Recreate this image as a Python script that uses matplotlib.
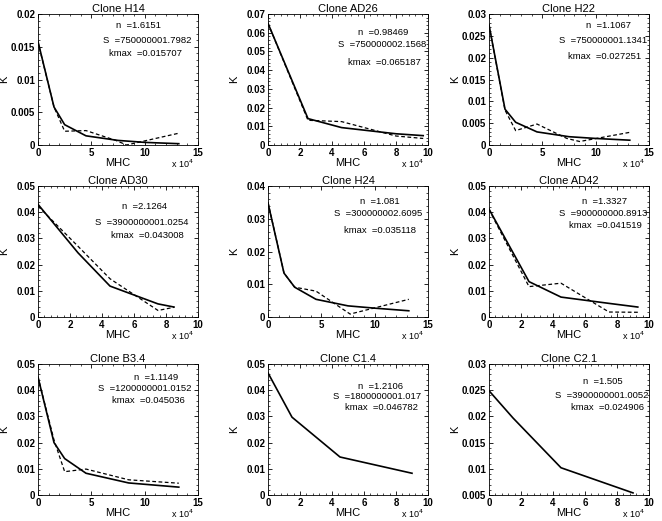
import matplotlib
matplotlib.use("Agg")
import matplotlib.pyplot as plt
from matplotlib.ticker import FuncFormatter, MultipleLocator, AutoMinorLocator

plt.rcParams["font.family"] = ["Liberation Sans", "DejaVu Sans"]

# MHC values (molecules); fit = solid line, obs = dashed line
h14_x = [0, 15000, 25000, 45000, 75000, 100000, 132000]
h14_fit = [0.0158, 0.0058, 0.0031, 0.0014, 0.0007, 0.0004, 0.0002]
h14_obs_x = [0, 15000, 25000, 45000, 73000, 83000, 132000]
h14_obs = [0.0157, 0.0058, 0.0021, 0.0022, 0.0007, 0.0, 0.0018]

ad26_x = [0, 25000, 46000, 80000, 97000]
ad26_fit = [0.065, 0.0141, 0.0093, 0.0060, 0.0050]
ad26_obs = [0.065, 0.0132, 0.0125, 0.0048, 0.0035]

h22_x = [0, 15000, 25000, 45000, 75000, 100000, 132000]
h22_fit = [0.0275, 0.0082, 0.0052, 0.0030, 0.0019, 0.0015, 0.0011]
h22_obs_x = [0, 15000, 25000, 45000, 73000, 85000, 132000]
h22_obs = [0.0275, 0.0080, 0.0033, 0.0048, 0.0015, 0.0008, 0.0029]

ad30_x = [0, 25000, 45000, 75000, 85000]
ad30_fit = [0.0430, 0.0245, 0.0118, 0.0050, 0.0038]
ad30_obs = [0.0423, 0.0270, 0.0146, 0.0025, 0.0037]

h24_x = [0, 15000, 25000, 45000, 75000, 100000, 132000]
h24_fit = [0.0348, 0.0134, 0.0091, 0.0054, 0.0034, 0.0027, 0.0019]
h24_obs_x = [0, 15000, 25000, 45000, 77000, 132000]
h24_obs = [0.0350, 0.0134, 0.0091, 0.0079, 0.0009, 0.0054]

ad42_x = [0, 25000, 45000, 75000, 93000]
ad42_fit = [0.0412, 0.0135, 0.0076, 0.0052, 0.0038]
ad42_obs = [0.0410, 0.0116, 0.0129, 0.0019, 0.0018]

b34_x = [0, 15000, 25000, 45000, 85000, 132000]
b34_fit = [0.0450, 0.0200, 0.0139, 0.0083, 0.0046, 0.0030]
b34_obs = [0.0450, 0.0210, 0.0089, 0.0099, 0.0058, 0.0045]

c14_x = [0, 15000, 45000, 90000]
c14_fit = [0.0466, 0.0297, 0.0145, 0.0083]

c21_x = [0, 15000, 45000, 90000]
c21_fit = [0.0249, 0.0197, 0.0102, 0.0054]

titles = ["Clone H14", "Clone AD26", "Clone H22",
          "Clone AD30", "Clone H24", "Clone AD42",
          "Clone B3.4", "Clone C1.4", "Clone C2.1"]
n_vals = ["1.6151", "0.98469", "1.1067", "2.1264", "1.081", "1.3327",
          "1.1149", "1.2106", "1.505"]
s_vals = ["750000001.7982", "750000002.1568", "750000001.1341",
          "3900000001.0254", "300000002.6095", "900000000.8913",
          "1200000001.0152", "1800000001.017", "3900000001.0052"]
kmax_vals = ["0.015707", "0.065187", "0.027251", "0.043008", "0.035118",
             "0.041519", "0.045036", "0.046782", "0.024906"]

fig = plt.figure(figsize=(6.62, 5.21), dpi=100)

col_left = [38 / 662, 268 / 662, 489 / 662]
col_w = 160 / 662
row_bottom = [1 - 145 / 521, 1 - 317 / 521, 1 - 495 / 521]
row_h = 131 / 521

# text positions (axes fraction) for n, S, kmax lines
txt_pos = [
    [(0.63, 0.91), (0.68, 0.795), (0.67, 0.70)],
    [(0.72, 0.856), (0.715, 0.77), (0.73, 0.63)],
    [(0.75, 0.915), (0.715, 0.795), (0.72, 0.675)],
    [(0.667, 0.84), (0.65, 0.725), (0.686, 0.62)],
    [(0.70, 0.88), (0.69, 0.79), (0.70, 0.66)],
    [(0.72, 0.88), (0.715, 0.79), (0.73, 0.70)],
    [(0.736, 0.90), (0.665, 0.81), (0.687, 0.72)],
    [(0.70, 0.83), (0.68, 0.75), (0.71, 0.67)],
    [(0.71, 0.865), (0.705, 0.76), (0.74, 0.67)],
]

panels = [
    (h14_x, h14_fit, h14_obs_x, h14_obs, 150000, 50000, (0, 0.02), 0.005),
    (ad26_x, ad26_fit, ad26_x, ad26_obs, 100000, 20000, (0, 0.07), 0.01),
    (h22_x, h22_fit, h22_obs_x, h22_obs, 150000, 50000, (0, 0.03), 0.005),
    (ad30_x, ad30_fit, ad30_x, ad30_obs, 100000, 20000, (0, 0.05), 0.01),
    (h24_x, h24_fit, h24_obs_x, h24_obs, 150000, 50000, (0, 0.04), 0.01),
    (ad42_x, ad42_fit, ad42_x, ad42_obs, 100000, 20000, (0, 0.05), 0.01),
    (b34_x, b34_fit, b34_x, b34_obs, 150000, 50000, (0, 0.05), 0.01),
    (c14_x, c14_fit, None, None, 100000, 20000, (0, 0.05), 0.01),
    (c21_x, c21_fit, None, None, 100000, 20000, (0.005, 0.03), 0.005),
]

xfmt = FuncFormatter(lambda v, p: f"{v / 1e4:g}")
yfmt = FuncFormatter(lambda v, p: f"{v:g}")

for i, (fx, fy, ox, oy, xmax, xstep, ylim, ystep) in enumerate(panels):
    r, c = divmod(i, 3)
    ax = fig.add_axes([col_left[c], row_bottom[r], col_w, row_h])
    if ox is not None:
        ax.plot(ox, oy, color="black", lw=0.9, ls=(0, (3, 2)))
    ax.plot(fx, fy, color="black", lw=1.2)
    ax.set_xlim(0, xmax)
    ax.set_ylim(*ylim)
    ax.xaxis.set_major_locator(MultipleLocator(xstep))
    ax.yaxis.set_major_locator(MultipleLocator(ystep))
    ax.xaxis.set_minor_locator(AutoMinorLocator(5))
    ax.yaxis.set_minor_locator(AutoMinorLocator(5))
    ax.xaxis.set_major_formatter(xfmt)
    ax.yaxis.set_major_formatter(yfmt)
    ax.tick_params(which="both", direction="in", top=True, right=True,
                   labelsize=7, pad=2)
    ax.tick_params(which="major", length=3, width=0.6)
    ax.tick_params(which="minor", length=1.5, width=0.5)
    for lab in ax.get_xticklabels() + ax.get_yticklabels():
        lab.set_fontweight("bold")
    for sp in ax.spines.values():
        sp.set_linewidth(0.6)
    ax.set_title(titles[i], fontsize=8, pad=1)
    ax.set_xlabel("MHC", fontsize=8, labelpad=0)
    ax.set_ylabel("K", fontsize=8)
    ax.yaxis.set_label_coords(-0.18, 0.5)
    ax.text(0.9, -0.14, r"x 10$^4$", transform=ax.transAxes, fontsize=6.5,
            ha="center", va="center")
    labels = [f"n  ={n_vals[i]}", f"S  ={s_vals[i]}", f"kmax  ={kmax_vals[i]}"]
    for (tx, ty), s in zip(txt_pos[i], labels):
        ax.text(tx, ty, s, transform=ax.transAxes, fontsize=6.8,
                ha="center", va="center")

fig.savefig("out.png", dpi=100)
